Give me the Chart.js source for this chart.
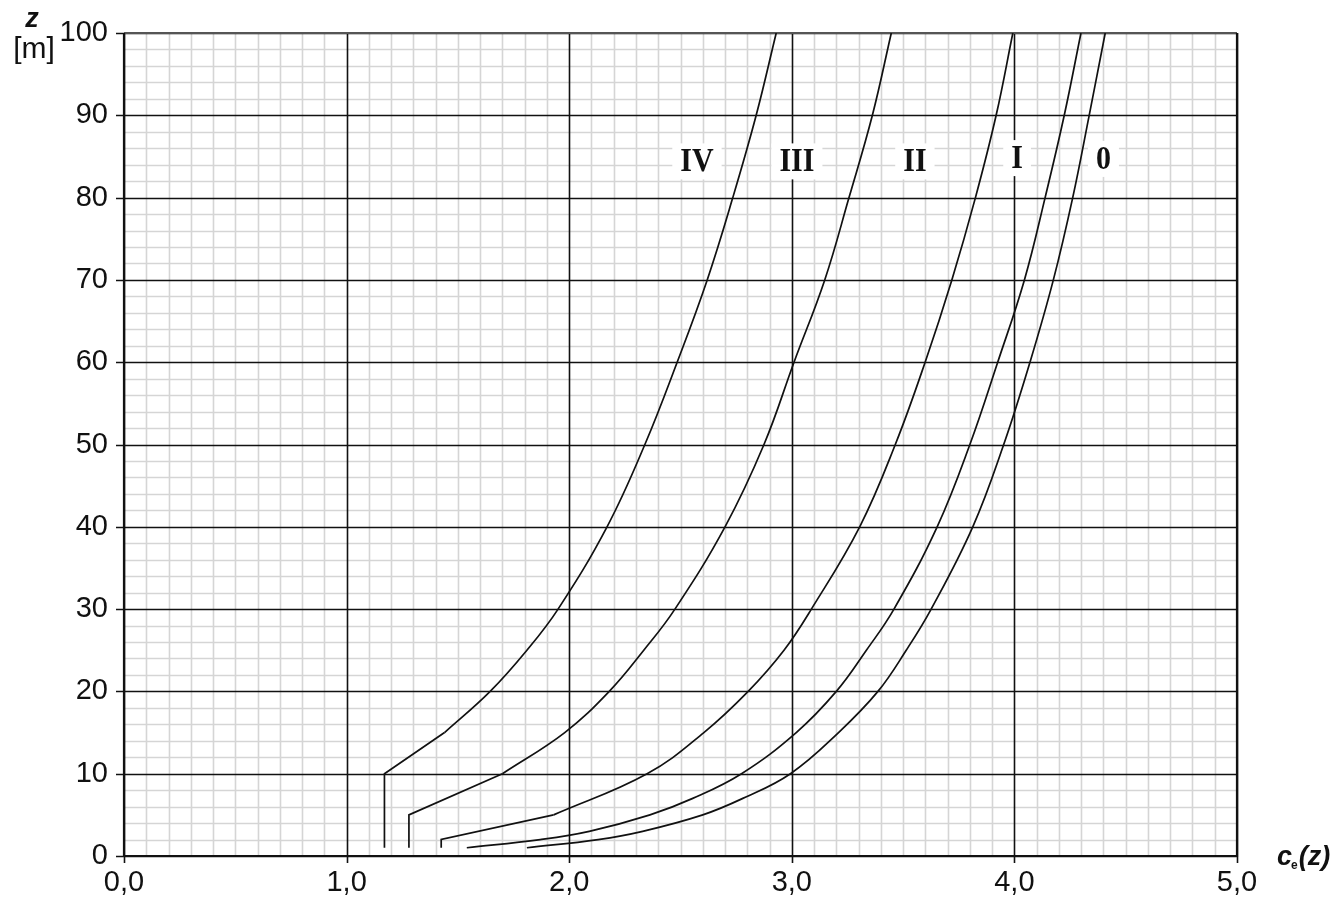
<!DOCTYPE html>
<html>
<head>
<meta charset="utf-8">
<script src="https://cdn.jsdelivr.net/npm/chart.js@4.4.1/dist/chart.umd.min.js"></script>
<style>
html,body{margin:0;padding:0;background:#fff;}
#wrap{position:relative;width:1336px;height:898px;}
</style>
</head>
<body>
<div id="wrap"><canvas id="c" width="1336" height="898"></canvas></div>
<script>
// ---- tick labels ----
const xTickLabels = ['0,0', '1,0', '2,0', '3,0', '4,0', '5,0'];
const yTickLabels = ['0', '10', '20', '30', '40', '50', '60', '70', '80', '90', '100'];

// ---- series: height z [m] and exposure factor ce(z) ----
const zIV  = [1, 10, 15, 20, 25, 30, 40, 50, 60, 70, 80, 90, 100];
const ceIV = [1.17, 1.17, 1.44, 1.645, 1.81, 1.95, 2.17, 2.34, 2.485, 2.62, 2.735, 2.84, 2.93];

const zIII  = [1, 5, 10, 15, 20, 25, 30, 40, 50, 60, 70, 80, 90, 100];
const ceIII = [1.28, 1.28, 1.70, 1.98, 2.18, 2.335, 2.475, 2.70, 2.875, 3.01, 3.148, 3.257, 3.362, 3.447];

const zII  = [1, 2, 5, 10, 15, 20, 25, 30, 40, 50, 60, 70, 80, 90, 100];
const ceII = [1.425, 1.425, 1.93, 2.35, 2.605, 2.804, 2.965, 3.088, 3.305, 3.465, 3.599, 3.719, 3.825, 3.918, 3.993];

const zI  = [1, 2, 3, 5, 7, 10, 15, 20, 25, 30, 40, 50, 60, 70, 80, 90, 100];
const ceI = [1.54, 1.87, 2.09, 2.363, 2.555, 2.774, 3.02, 3.2, 3.335, 3.459, 3.653, 3.80, 3.925, 4.045, 4.138, 4.224, 4.299];

const z0  = [1, 2, 3, 5, 7, 10, 15, 20, 25, 30, 40, 50, 60, 70, 80, 90, 100];
const ce0 = [1.81, 2.13, 2.33, 2.60, 2.78, 2.994, 3.21, 3.387, 3.514, 3.626, 3.813, 3.952, 4.07, 4.175, 4.262, 4.336, 4.408];

// index in each series where the smooth curved part begins (before it: straight segments)
const smoothStart = [2, 2, 2, 0, 0];

// ---- curve labels (terrain categories) ----
const curveNames  = ['IV', 'III', 'II', 'I', '0'];
const curveLabelX = [2.574, 3.023, 3.553, 4.012, 4.40];
const curveLabelZ = [84.4, 84.4, 84.4, 84.8, 84.7];

function pts(xs, zs) { return xs.map((v, i) => ({ x: v, y: zs[i] })); }

const seriesList = [
  { name: 'IV', ce: ceIV, z: zIV },
  { name: 'III', ce: ceIII, z: zIII },
  { name: 'II', ce: ceII, z: zII },
  { name: 'I', ce: ceI, z: zI },
  { name: '0', ce: ce0, z: z0 }
];

const datasets = [];
seriesList.forEach((s, i) => {
  const all = pts(s.ce, s.z);
  const k = smoothStart[i];
  const common = { showLine: true, borderColor: '#111', borderWidth: 1.7, pointRadius: 0, fill: false };
  if (k > 0) {
    datasets.push(Object.assign({ label: s.name + ' (straight)', data: all.slice(0, k + 1), tension: 0 }, common));
  }
  datasets.push(Object.assign({ label: s.name, data: all.slice(k), tension: 0.4 }, common));
});

const isInt = v => Math.abs(v - Math.round(v)) < 1e-6;
const isTen = v => Math.abs(v / 10 - Math.round(v / 10)) < 1e-6;

const gridPaper = {
  id: 'gridPaper',
  beforeDatasetsDraw(chart) {
    const ctx = chart.ctx;
    const xs = chart.scales.x, ys = chart.scales.y;
    const a = chart.chartArea;
    ctx.save();
    // minor grid
    ctx.strokeStyle = '#d5d5d5';
    ctx.lineWidth = 1.6;
    ctx.beginPath();
    xs.ticks.forEach(t => {
      if (isInt(t.value)) return;
      const p = Math.round(xs.getPixelForValue(t.value)) + 0.5;
      ctx.moveTo(p, a.top); ctx.lineTo(p, a.bottom);
    });
    ys.ticks.forEach(t => {
      if (isTen(t.value)) return;
      const p = Math.round(ys.getPixelForValue(t.value)) + 0.5;
      ctx.moveTo(a.left, p); ctx.lineTo(a.right, p);
    });
    ctx.stroke();
    // major grid + tick marks
    ctx.strokeStyle = '#111';
    ctx.lineWidth = 1.6;
    ctx.beginPath();
    xs.ticks.forEach(t => {
      if (!isInt(t.value)) return;
      const p = Math.round(xs.getPixelForValue(t.value)) + 0.5;
      ctx.moveTo(p, a.top); ctx.lineTo(p, a.bottom + 7);
    });
    ys.ticks.forEach(t => {
      if (!isTen(t.value)) return;
      const p = Math.round(ys.getPixelForValue(t.value)) + 0.5;
      ctx.moveTo(a.left - 8, p); ctx.lineTo(a.right, p);
    });
    ctx.stroke();
    // frame
    ctx.lineWidth = 2.2;
    ctx.strokeStyle = '#555';
    ctx.beginPath(); ctx.moveTo(a.left, a.top); ctx.lineTo(a.right, a.top); ctx.stroke();
    ctx.strokeStyle = '#111';
    ctx.beginPath();
    ctx.moveTo(a.left, a.top); ctx.lineTo(a.left, a.bottom); ctx.lineTo(a.right, a.bottom); ctx.lineTo(a.right, a.top);
    ctx.stroke();

    // curve labels with white boxes
    ctx.font = 'bold 30px "Liberation Serif", "Times New Roman", serif';
    ctx.textAlign = 'center';
    ctx.textBaseline = 'middle';
    curveNames.forEach((n, i) => {
      const px = xs.getPixelForValue(curveLabelX[i]);
      const py = ys.getPixelForValue(curveLabelZ[i]);
      const w = ctx.measureText(n).width + 16;
      ctx.fillStyle = '#fff';
      ctx.fillRect(px - w / 2, py - 18, w, 36);
      ctx.fillStyle = '#111';
      ctx.save();
      ctx.translate(px, py + 1);
      ctx.scale(1, 1.12);
      ctx.fillText(n, 0, 0);
      ctx.restore();
    });

    // axis titles
    ctx.fillStyle = '#111';
    ctx.textAlign = 'center';
    ctx.textBaseline = 'alphabetic';
    ctx.font = 'bold italic 27px "Liberation Sans", Arial, sans-serif';
    ctx.fillText('z', 32, 27);
    ctx.font = '30px "Liberation Sans", Arial, sans-serif';
    ctx.fillText('[m]', 34, 58);
    // ce(z)
    ctx.textAlign = 'left';
    ctx.font = 'bold italic 27px "Liberation Sans", Arial, sans-serif';
    ctx.fillText('c', 1277, 865);
    const cw = ctx.measureText('c').width;
    ctx.font = 'bold 12px "Liberation Sans", Arial, sans-serif';
    ctx.fillText('e', 1277 + cw - 1, 869);
    const ew = ctx.measureText('e').width;
    ctx.font = 'bold italic 27px "Liberation Sans", Arial, sans-serif';
    ctx.fillText('(z)', 1277 + cw + ew, 865);
    ctx.restore();
  }
};

const ctx = document.getElementById('c').getContext('2d');
new Chart(ctx, {
  type: 'scatter',
  data: { datasets: datasets },
  options: {
    responsive: false,
    animation: false,
    events: [],
    layout: { padding: { top: 33, right: 99, bottom: 0, left: 0 } },
    plugins: { legend: { display: false }, tooltip: { enabled: false }, title: { display: false } },
    scales: {
      x: {
        type: 'linear', min: 0, max: 5,
        grid: { display: false }, border: { display: false },
        afterFit(s) { s.height = 42; },
        ticks: {
          stepSize: 0.1, autoSkip: false, maxRotation: 0, padding: 2,
          color: '#111',
          font: { family: '"Liberation Sans", Arial, sans-serif', size: 29 },
          callback: v => isInt(v) ? xTickLabels[Math.round(v)] : ''
        }
      },
      y: {
        type: 'linear', min: 0, max: 100,
        grid: { display: false }, border: { display: false },
        afterFit(s) { s.width = 124; },
        ticks: {
          stepSize: 2, autoSkip: false, padding: 8,
          color: '#111',
          font: { family: '"Liberation Sans", Arial, sans-serif', size: 29 },
          callback: v => isTen(v) ? yTickLabels[Math.round(v / 10)] : ''
        }
      }
    }
  },
  plugins: [gridPaper]
});
</script>
</body>
</html>
